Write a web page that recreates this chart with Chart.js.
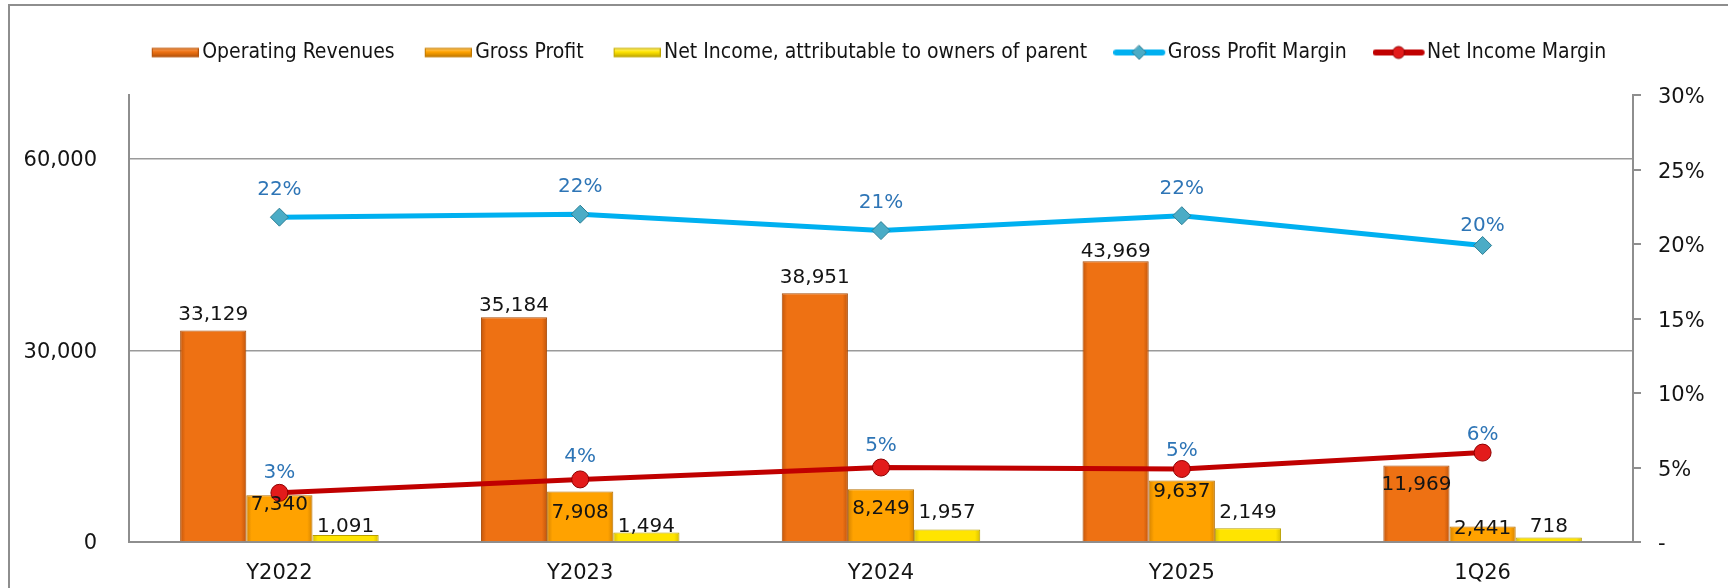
<!DOCTYPE html>
<html>
<head>
<meta charset="utf-8">
<script src="https://cdn.jsdelivr.net/npm/chart.js@4.4.1/dist/chart.umd.min.js"></script>
<style>
  html, body { margin: 0; padding: 0; background: #ffffff; overflow: hidden; }
  #frame { position: absolute; left: 8px; top: 4px; width: 1800px; height: 700px;
           border-left: 2px solid #8e8e8e; border-top: 2px solid #8e8e8e; }
  #wrap { position: absolute; left: 0; top: 0; width: 1728px; height: 588px; }
</style>
</head>
<body>
<div id="frame"></div>
<div id="wrap"><canvas id="c" width="1728" height="588"></canvas></div>
<script>
// ---- data ----
const categories = ['Y2022', 'Y2023', 'Y2024', 'Y2025', '1Q26'];
const operatingRevenues = [33129, 35184, 38951, 43969, 11969];
const grossProfit = [7340, 7908, 8249, 9637, 2441];
const netIncome = [1091, 1494, 1957, 2149, 718];
const grossProfitMargin = [21.8, 22.0, 20.9, 21.9, 19.9];
const netIncomeMargin = [3.3, 4.2, 5.0, 4.9, 6.0];
const leftTicks = [0, 30000, 60000];
const rightTicks = [0, 5, 10, 15, 20, 25, 30];
const seriesNames = ['Operating Revenues', 'Gross Profit', 'Net Income, attributable to owners of parent', 'Gross Profit Margin', 'Net Income Margin'];

const NUM_FONT = "'DejaVu Sans', sans-serif";
const LEGEND_FONT = "'DejaVu Sans Condensed', 'DejaVu Sans', sans-serif";
const TEXT = '#141414';
const CAT_PCT = 0.66;

// legend icons
function barIcon(fill, light, border) {
  const c = document.createElement('canvas'); c.width = 48; c.height = 12;
  const g = c.getContext('2d');
  const gr = g.createLinearGradient(0, 1.5, 0, 10.5);
  gr.addColorStop(0, light); gr.addColorStop(0.45, fill); gr.addColorStop(1, border);
  g.fillStyle = gr; g.fillRect(1, 1.5, 47, 9);
  g.strokeStyle = border; g.lineWidth = 1; g.strokeRect(1.5, 2, 46, 8);
  return c;
}
function lineIcon(color, marker, mFill, mBorder) {
  const c = document.createElement('canvas'); c.width = 54; c.height = 20;
  const g = c.getContext('2d');
  g.strokeStyle = color; g.lineWidth = 6; g.lineCap = 'round';
  g.beginPath(); g.moveTo(3, 10); g.lineTo(49, 10); g.stroke();
  g.fillStyle = mFill; g.strokeStyle = mBorder; g.lineWidth = 1;
  g.beginPath();
  if (marker === 'diamond') { g.moveTo(26, 3); g.lineTo(33, 10); g.lineTo(26, 17); g.lineTo(19, 10); g.closePath(); }
  else { g.arc(26, 10, 6, 0, Math.PI * 2); }
  g.fill(); g.stroke();
  return c;
}
const legendIcons = [
  barIcon('#EE7113', '#F8A766', '#B4520A'),
  barIcon('#FFA200', '#FFD27A', '#C07800'),
  barIcon('#FFE400', '#FFF48A', '#BFA600'),
  lineIcon('#00B0F0', 'diamond', '#4BACC6', '#2E7F95'),
  lineIcon('#C00000', 'circle', '#E31B1B', '#8E0000')
];

// bevel-like horizontal shading for bars, computed from the x scale
function bevel(main, edge) {
  return (sc) => {
    const chart = sc.chart, xs = chart.scales && chart.scales.x;
    if (!xs || xs.width === undefined || !isFinite(xs.getPixelForValue(sc.dataIndex))) return main;
    const n = chart.data.labels.length;
    const group = (xs.width / n) * CAT_PCT;
    const bw = group / 3;
    const left = xs.getPixelForValue(sc.dataIndex) - group / 2 + sc.datasetIndex * bw;
    const g = chart.ctx.createLinearGradient(left, 0, left + bw, 0);
    g.addColorStop(0, edge); g.addColorStop(0.08, main); g.addColorStop(0.92, main); g.addColorStop(1, edge);
    return g;
  };
}

// label placement (style): for bars, signed pixel offset of label centre from the bar top
// (negative = above the bar); for lines, distance above the point.
const valueLabels = {
  id: 'valueLabels',
  afterDatasetsDraw(chart, args, opts) {
    const ctx = chart.ctx;
    ctx.save();
    ctx.textAlign = 'center';
    ctx.textBaseline = 'middle';
    ctx.font = "20px " + NUM_FONT;
    chart.data.datasets.forEach((ds, i) => {
      const meta = chart.getDatasetMeta(i);
      if (meta.hidden) return;
      const offs = opts.offsets[i];
      meta.data.forEach((el, j) => {
        const v = ds.data[j];
        let text, y;
        if (meta.type === 'bar') {
          text = v.toLocaleString('en-US');
          y = el.y + offs[j];
          ctx.fillStyle = TEXT;
        } else {
          text = Math.round(v) + '%';
          y = el.y - offs[j];
          ctx.fillStyle = '#2E75B6';
        }
        ctx.fillText(text, el.x, y);
      });
    });
    ctx.restore();
  }
};

const barCommon = { yAxisID: 'y', order: 2, borderWidth: 1, categoryPercentage: CAT_PCT, barPercentage: 1.0 };

new Chart(document.getElementById('c'), {
  data: {
    labels: categories,
    datasets: [
      Object.assign({ type: 'bar', label: seriesNames[0], data: operatingRevenues, backgroundColor: bevel('#EE7113', '#C2560B'), borderColor: '#A84C08' }, barCommon),
      Object.assign({ type: 'bar', label: seriesNames[1], data: grossProfit, backgroundColor: bevel('#FFA200', '#D68400'), borderColor: '#B87000' }, barCommon),
      Object.assign({ type: 'bar', label: seriesNames[2], data: netIncome, backgroundColor: bevel('#FFE400', '#D9C000'), borderColor: '#B89E00' }, barCommon),
      { type: 'line', label: seriesNames[3], data: grossProfitMargin, yAxisID: 'y1', order: 1,
        borderColor: '#00B0F0', borderWidth: 5, tension: 0,
        pointStyle: 'rectRot', pointRadius: 9, pointBackgroundColor: '#4BACC6', pointBorderColor: '#2E7F95', pointBorderWidth: 1 },
      { type: 'line', label: seriesNames[4], data: netIncomeMargin, yAxisID: 'y1', order: 1,
        borderColor: '#C00000', borderWidth: 5, tension: 0,
        pointStyle: 'circle', pointRadius: 8.5, pointBackgroundColor: '#E31B1B', pointBorderColor: '#8E0000', pointBorderWidth: 1 }
    ]
  },
  options: {
    responsive: false,
    animation: false,
    layout: { padding: { top: 6, left: 0, right: -36, bottom: 0 } },
    plugins: {
      tooltip: { enabled: false },
      legend: {
        position: 'top', fullSize: true, weight: 1000,
        labels: {
          usePointStyle: true, pointStyleWidth: 34, padding: 36, color: TEXT,
          font: { family: LEGEND_FONT, size: 21 },
          generateLabels(chart) {
            return chart.data.datasets.map((ds, i) => ({
              text: ds.label, pointStyle: legendIcons[i], fillStyle: 'rgba(0,0,0,0)',
              strokeStyle: 'rgba(0,0,0,0)', lineWidth: 0, hidden: false, datasetIndex: i, fontColor: TEXT
            }));
          }
        }
      },
      subtitle: { display: true, text: '', weight: 500, padding: 0, font: { size: 22, lineHeight: 1 } },
      valueLabels: {
        offsets: [
          [-16, -12, -15, -9, 19.5],
          [10, 21, 19, 11, 2],
          [-8, -6, -17, -15, -11],
          [27, 27, 28, 27, 20],
          [20, 23, 22, 18, 18]
        ]
      }
    },
    scales: {
      x: {
        grid: { display: false, drawTicks: false },
        border: { display: true, color: '#8e8e8e', width: 2 },
        ticks: { color: TEXT, font: { family: NUM_FONT, size: 21 }, padding: 19 },
        afterFit(s) { s.height = 46; }
      },
      y: {
        position: 'left', min: 0, max: 70000,
        grid: { display: true, drawTicks: false, color: '#9a9a9a', lineWidth: 1.5 },
        border: { display: true, color: '#8e8e8e', width: 2 },
        ticks: { color: TEXT, font: { family: NUM_FONT, size: 21 }, padding: 32, labelOffset: 2,
                 callback: v => v.toLocaleString('en-US') },
        afterBuildTicks(s) { s.ticks = leftTicks.map(v => ({ value: v })); },
        afterFit(s) { s.width = 129; }
      },
      y1: {
        position: 'right', min: 0, max: 30,
        grid: { display: true, drawOnChartArea: false, drawTicks: true, tickLength: 8, color: '#8e8e8e', lineWidth: 2 },
        border: { display: true, color: '#8e8e8e', width: 2 },
        ticks: { color: TEXT, font: { family: NUM_FONT, size: 21 }, padding: 17, labelOffset: 3,
                 callback: v => v === 0 ? '-' : v + '%' },
        afterBuildTicks(s) { s.ticks = rightTicks.map(v => ({ value: v })); },
        afterFit(s) { s.width = 131; }
      }
    }
  },
  plugins: [valueLabels]
});
</script>
</body>
</html>
